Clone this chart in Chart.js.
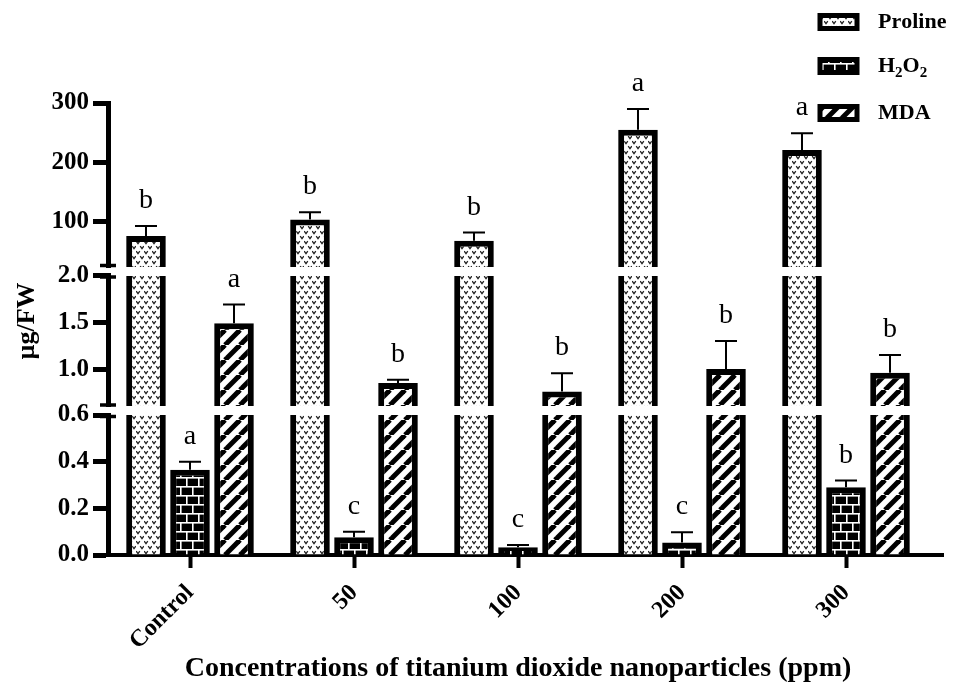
<!DOCTYPE html>
<html>
<head>
<meta charset="utf-8">
<script src="https://cdn.jsdelivr.net/npm/chart.js@4/dist/chart.umd.min.js"></script>
<style>
  html, body { margin: 0; padding: 0; background: #fff; }
  #wrap { width: 961px; height: 689px; }
</style>
</head>
<body>
<div id="wrap"><canvas id="chart"></canvas></div>
<script>
// Data
const categories = ['Control', '50', '100', '200', '300'];
const prolineMean = [76, 104, 68, 255, 221];
const prolineErr = [17, 12, 14, 35, 28];
const h2o2Mean = [0.365, 0.076, 0.033, 0.054, 0.29];
const h2o2Err = [0.035, 0.024, 0.010, 0.043, 0.029];
const mdaMean = [1.49, 0.85, 0.76, 1.00, 0.96];
const mdaErr = [0.20, 0.035, 0.195, 0.30, 0.19];
const prolineLetters = ['b', 'b', 'b', 'a', 'a'];
const h2o2Letters = ['a', 'c', 'c', 'c', 'b'];
const mdaLetters = ['a', 'b', 'b', 'b', 'b'];

// broken y axis: three segments
const topRange = [24, 300];
const midRange = [0.6, 2.0];
const lowRange = [0, 0.6];
const topTicks = [100, 200, 300];
const midTicks = [1.0, 1.5, 2.0];
const lowTicks = [0, 0.2, 0.4, 0.6];

const SERIF = "'Liberation Serif', 'Times New Roman', serif";
Chart.defaults.font.family = SERIF;
Chart.defaults.color = '#000';

// fill patterns
function makePattern(w, h, draw) {
    const c = document.createElement('canvas');
    c.width = w; c.height = h;
    const g = c.getContext('2d');
    draw(g, w, h);
    return g.createPattern(c, 'repeat');
}
const prolineFill = makePattern(8, 10, g => {
    g.fillStyle = '#fff';
    g.fillRect(0, 0, 8, 10);
    g.strokeStyle = '#222';
    g.lineWidth = 1.3;
    const v = (x, y) => {
        g.beginPath();
        g.moveTo(x - 1.8, y - 1.4);
        g.lineTo(x, y + 1.2);
        g.lineTo(x + 1.8, y - 1.4);
        g.stroke();
    };
    v(2, 2.5); v(6, 7.5);
});
const h2o2Fill = makePattern(12, 18, g => {
    g.fillStyle = '#000';
    g.fillRect(0, 0, 12, 18);
    g.fillStyle = '#fff';
    g.fillRect(0, 0, 12, 1.6);
    g.fillRect(0, 9, 12, 1.6);
    g.fillRect(0, 0, 1.6, 9);
    g.fillRect(6, 9, 1.6, 9);
});
const mdaFill = makePattern(15, 15, g => {
    g.fillStyle = '#fff';
    g.fillRect(0, 0, 15, 15);
    g.strokeStyle = '#000';
    g.lineWidth = 5;
    for (const o of [-15, 0, 15]) {
        g.beginPath();
        g.moveTo(o, 15);
        g.lineTo(o + 15, 0);
        g.stroke();
    }
});

const series = [
    { label: 'Proline', mean: prolineMean, err: prolineErr, letters: prolineLetters, fill: prolineFill },
    { label: 'H₂O₂', mean: h2o2Mean, err: h2o2Err, letters: h2o2Letters, fill: h2o2Fill },
    { label: 'MDA', mean: mdaMean, err: mdaErr, letters: mdaLetters, fill: mdaFill }
];
const segments = ['yTop', 'yMid', 'yLow'];

// one dataset per series per axis segment, each clipped to its own segment
const datasets = [];
series.forEach(s => {
    segments.forEach(seg => {
        datasets.push({
            label: s.label,
            data: s.mean,
            yAxisID: seg,
            stack: s.label,
            backgroundColor: s.fill,
            borderColor: '#000',
            borderWidth: 6,
            borderSkipped: 'start',
            barPercentage: 0.9,
            categoryPercentage: 0.805
        });
    });
});

function yScale(range, ticks, weight, decimals) {
    return {
        type: 'linear',
        position: 'left',
        stack: 'broken',
        stackWeight: weight,
        stacked: false,
        min: range[0],
        max: range[1],
        border: { display: true, color: '#000', width: 5 },
        grid: { display: true, drawOnChartArea: false, drawTicks: true, tickLength: 15, tickWidth: 5, tickColor: '#000', color: '#000' },
        ticks: {
            color: '#000',
            padding: 4,
            autoSkip: false,
            font: { family: SERIF, size: 25, weight: 'bold' },
            callback: v => decimals ? Number(v).toFixed(1) : String(v)
        },
        afterBuildTicks: sc => { sc.ticks = ticks.map(v => ({ value: v })); },
        afterFit: sc => { sc.width = 108; }
    };
}
function gapScale(weight) {
    return {
        type: 'linear', position: 'left', stack: 'broken', stackWeight: weight,
        min: 0, max: 1,
        border: { display: false }, grid: { display: false }, ticks: { display: false },
        afterFit: sc => { sc.width = 108; }
    };
}

// error bars, letters, axis breaks, y title, legend
const overlays = {
    id: 'overlays',
    beforeDatasetDraw(chart, args) {
        const ys = chart.scales[args.meta.yAxisID];
        const a = chart.chartArea;
        const ctx = chart.ctx;
        const t = Math.ceil(ys.top), b = Math.floor(ys.bottom);
        ctx.save();
        ctx.beginPath();
        ctx.rect(a.left, t, a.right - a.left, b - t);
        ctx.clip();
    },
    afterDatasetDraw(chart) {
        chart.ctx.restore();
    },
    afterDatasetsDraw(chart) {
        const ctx = chart.ctx;
        ctx.save();
        series.forEach((s, i) => {
            s.mean.forEach((v, j) => {
                const hi = v + s.err[j];
                let k = segments.findIndex(id => {
                    const sc = chart.scales[id];
                    return hi >= sc.min && hi <= sc.max;
                });
                if (k < 0) k = 0;
                const sc = chart.scales[segments[k]];
                const bar = chart.getDatasetMeta(i * 3 + k).data[j];
                const x = bar.x;
                const y0 = sc.getPixelForValue(v);
                const y1 = sc.getPixelForValue(hi);
                ctx.strokeStyle = '#000';
                ctx.lineWidth = 2;
                ctx.beginPath();
                ctx.moveTo(x, y0);
                ctx.lineTo(x, y1);
                ctx.moveTo(x - 11, y1);
                ctx.lineTo(x + 11, y1);
                ctx.stroke();
                ctx.fillStyle = '#000';
                ctx.font = '28px ' + SERIF;
                ctx.textAlign = 'center';
                ctx.textBaseline = 'alphabetic';
                ctx.fillText(s.letters[j], x, y1 - 18);
            });
        });
        ctx.restore();
    },
    afterDraw(chart) {
        const ctx = chart.ctx;
        const top = chart.scales.yTop, mid = chart.scales.yMid, low = chart.scales.yLow;
        const xs = chart.scales.x;
        const ax = mid.right;
        ctx.save();
        // x axis line runs a little past the last category
        ctx.fillStyle = '#000';
        ctx.fillRect(xs.right - 1, xs.top - 2, 17, 4);
        // break caps on the y axis
        ctx.strokeStyle = '#000';
        ctx.lineWidth = 3.5;
        [top.bottom - 1.5, mid.top + 1.5, mid.bottom - 1.5, low.top + 1.5].forEach(y => {
            ctx.beginPath();
            ctx.moveTo(ax - 8, y);
            ctx.lineTo(ax + 8, y);
            ctx.stroke();
        });
        // y title
        ctx.save();
        ctx.translate(27, 321);
        ctx.rotate(-Math.PI / 2);
        ctx.font = 'bold 26px ' + SERIF;
        ctx.textAlign = 'center';
        ctx.textBaseline = 'middle';
        ctx.fillStyle = '#000';
        ctx.fillText('µg/FW', 0, 0);
        ctx.restore();
        // legend
        const rows = [22, 66, 113];
        series.forEach((s, i) => {
            const y = rows[i];
            ctx.fillStyle = s.fill;
            ctx.fillRect(820, y - 6.5, 37, 13);
            ctx.strokeStyle = '#000';
            ctx.lineWidth = 5;
            ctx.strokeRect(820, y - 6.5, 37, 13);
            let x = 878;
            ctx.fillStyle = '#000';
            ctx.textAlign = 'left';
            ctx.textBaseline = 'middle';
            for (const ch of s.label) {
                const sub = '₀₁₂₃₄₅₆₇₈₉'.indexOf(ch);
                if (sub >= 0) {
                    ctx.font = 'bold 15px ' + SERIF;
                    ctx.fillText(String(sub), x, y + 7);
                    x += ctx.measureText(String(sub)).width;
                } else {
                    ctx.font = 'bold 22px ' + SERIF;
                    ctx.fillText(ch, x, y);
                    x += ctx.measureText(ch).width;
                }
            }
        });
        ctx.restore();
    }
};

new Chart(document.getElementById('chart'), {
    type: 'bar',
    data: { labels: categories, datasets: datasets },
    options: {
        responsive: true,
        maintainAspectRatio: false,
        animation: false,
        layout: { padding: { left: 0, top: 103, right: 33, bottom: 3 } },
        plugins: {
            legend: { display: false },
            tooltip: { enabled: false }
        },
        scales: {
            x: {
                type: 'category',
                border: { display: true, color: '#000', width: 4 },
                grid: { display: true, offset: false, drawOnChartArea: false, drawTicks: true, tickLength: 13, tickWidth: 4, tickColor: '#000' },
                ticks: {
                    color: '#000',
                    padding: 11,
                    minRotation: 45,
                    maxRotation: 45,
                    autoSkip: false,
                    font: { family: SERIF, size: 24, weight: 'bold' }
                },
                title: {
                    display: true,
                    text: 'Concentrations of titanium dioxide nanoparticles (ppm)',
                    color: '#000',
                    padding: { top: 0, bottom: 0 },
                    font: { family: SERIF, size: 28, weight: 'bold' }
                },
                afterFit: sc => { sc.height = 131; }
            },
            yLow: yScale(lowRange, lowTicks, 140, true),
            gap1: gapScale(8.5),
            yMid: yScale(midRange, midTicks, 131, true),
            gap2: gapScale(8.5),
            yTop: yScale(topRange, topTicks, 164, false)
        }
    },
    plugins: [overlays]
});
</script>
</body>
</html>
